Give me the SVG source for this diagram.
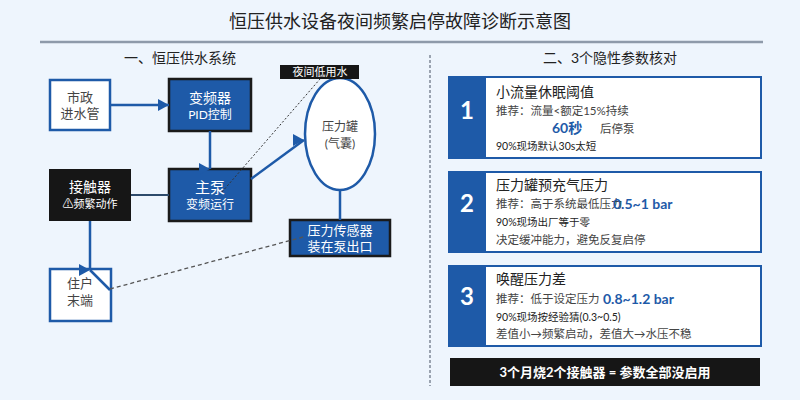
<svg xmlns="http://www.w3.org/2000/svg" width="800" height="400" viewBox="0 0 800 400">
<defs>
<marker id="arr" markerWidth="12" markerHeight="12" refX="11" refY="6" markerUnits="userSpaceOnUse">
<path d="M0,0 L11,6 L0,12 Z" fill="#1E5AA8"/>
</marker>
<style>
text{font-family:Lato,"Noto Sans CJK SC",sans-serif}
.t{fill:#222}
.g{fill:#444}
.w{fill:#fff}
.c{text-anchor:middle}
.wbox{fill:#fff;stroke:#1E5AA8;stroke-width:2.5}
.bbox{fill:#1E5AA8;stroke:#1a1a1a;stroke-width:2.5}
.kbox{fill:#161616}
.conn{stroke:#1E5AA8;stroke-width:2.5;fill:none}
.card{fill:#fff;stroke:#1E5AA8;stroke-width:2}
.strip{fill:#1E5AA8}
.num{fill:#fff;font-size:24px;font-weight:bold;text-anchor:middle}
.ct{fill:#222;font-size:14px}
.cs{fill:#444;font-size:11.5px}
.cn{fill:#222;font-size:10.5px}
.hl{fill:#1E5AA8;font-size:14px;font-weight:bold}
</style>
</defs>
<rect width="800" height="400" fill="#EEF5FD"/>
<text class="t c" x="400" y="28" font-size="18">恒压供水设备夜间频繁启停故障诊断示意图</text>
<line x1="40" y1="42" x2="763" y2="42" stroke="#8E9AAA" stroke-width="2.5"/>
<text class="t c" x="180" y="63" font-size="14">一、恒压供水系统</text>
<text class="t c" x="610" y="63" font-size="14">二、3个隐性参数核对</text>
<line x1="430" y1="55" x2="430" y2="386" stroke="#9AA3B0" stroke-width="2" stroke-dasharray="3,2"/>

<g id="n-city">
<rect class="wbox" x="50" y="80" width="60" height="50"/>
<text class="g c" x="80" y="102" font-size="13">市政</text>
<text class="g c" x="80" y="118" font-size="13">进水管</text>
</g>
<g id="n-vfd">
<rect class="bbox" x="169" y="79" width="82" height="52"/>
<text class="w c" x="210" y="103" font-size="14">变频器</text>
<text class="w c" x="210" y="119" font-size="12">PID控制</text>
</g>
<g id="n-contactor">
<rect class="kbox" x="49" y="169" width="82" height="52"/>
<text class="w c" x="90" y="192" font-size="14">接触器</text>
<text class="w c" x="90" y="208" font-size="11">⚠频繁动作</text>
</g>
<g id="n-pump">
<rect class="bbox" x="169" y="169" width="82" height="52"/>
<text class="w c" x="210" y="193" font-size="15">主泵</text>
<text class="w c" x="210" y="209" font-size="12">变频运行</text>
</g>
<g id="n-tank">
<ellipse cx="340" cy="134" rx="35" ry="56" fill="#fff" stroke="#1E5AA8" stroke-width="2.5"/>
<text class="g c" x="340" y="131" font-size="12">压力罐</text>
<text class="g c" x="340" y="148" font-size="12">(气囊)</text>
</g>
<g id="n-sensor">
<rect class="bbox" x="290" y="220" width="100" height="36"/>
<text class="w c" x="340" y="235" font-size="13">压力传感器</text>
<text class="w c" x="340" y="251" font-size="13">装在泵出口</text>
</g>
<g id="n-user">
<rect class="wbox" x="50" y="269" width="61" height="52"/>
<text class="g c" x="80" y="288" font-size="13">住户</text>
<text class="g c" x="80" y="305" font-size="13">末端</text>
</g>
<g id="n-night">
<rect x="280" y="65" width="79" height="14" fill="#161616"/>
<text class="w c" x="320" y="76" font-size="11">夜间低用水</text>
</g>

<g id="connectors">
<line class="conn" x1="110" y1="105" x2="169" y2="105" marker-end="url(#arr)"/>
<line class="conn" x1="210" y1="131" x2="210" y2="169" marker-end="url(#arr)"/>
<line x1="131" y1="195" x2="169" y2="195" stroke="#2D4A6B" stroke-width="2"/>
<line class="conn" x1="251" y1="179" x2="304" y2="140" marker-end="url(#arr)"/>
<line class="conn" x1="340" y1="190" x2="340" y2="220"/>
<line class="conn" x1="90" y1="221" x2="90" y2="270" marker-end="url(#arr)"/>
<line class="conn" x1="90" y1="270" x2="110" y2="290"/>
<line x1="110" y1="289" x2="303" y2="237" stroke="#555" stroke-width="1.3" stroke-dasharray="4,3"/>
<line x1="222" y1="192" x2="320" y2="79" stroke="#333" stroke-width="1" stroke-dasharray="2,2"/>
</g>

<g id="card1">
<rect class="card" x="449" y="77" width="312" height="81"/>
<rect class="strip" x="449" y="77" width="37" height="81"/>
<text class="num" x="467" y="119">1</text>
<text class="ct" x="496" y="97">小流量休眠阈值</text>
<text class="cs" x="496" y="115">推荐：流量&lt;额定15%持续</text>
<text class="hl" x="552" y="133">60秒</text>
<text class="cs" x="600" y="133" font-size="12">后停泵</text>
<text class="cn" x="496" y="150">90%现场默认30s太短</text>
</g>
<g id="card2">
<rect class="card" x="449" y="172" width="312" height="80"/>
<rect class="strip" x="449" y="172" width="37" height="80"/>
<text class="num" x="467" y="212">2</text>
<text class="ct" x="496" y="190">压力罐预充气压力</text>
<text class="cs" x="496" y="208">推荐：高于系统最低压力</text>
<text class="hl" x="613" y="209">0.5~1 bar</text>
<text class="cn" x="496" y="226">90%现场出厂等于零</text>
<text class="cs" x="496" y="244">决定缓冲能力，避免反复启停</text>
</g>
<g id="card3">
<rect class="card" x="449" y="266" width="312" height="80"/>
<rect class="strip" x="449" y="266" width="37" height="80"/>
<text class="num" x="467" y="305">3</text>
<text class="ct" x="496" y="284">唤醒压力差</text>
<text class="cs" x="496" y="303">推荐：低于设定压力</text>
<text class="hl" x="603" y="304">0.8~1.2 bar</text>
<text class="cn" x="496" y="321">90%现场按经验猜(0.3~0.5)</text>
<text class="cs" x="496" y="338">差值小→频繁启动，差值大→水压不稳</text>
</g>
<g id="summary">
<rect x="450" y="358" width="310" height="28" fill="#161616"/>
<text class="w c" x="605" y="377" font-size="13" font-weight="bold">3个月烧2个接触器 = 参数全部没启用</text>
</g>
</svg>
